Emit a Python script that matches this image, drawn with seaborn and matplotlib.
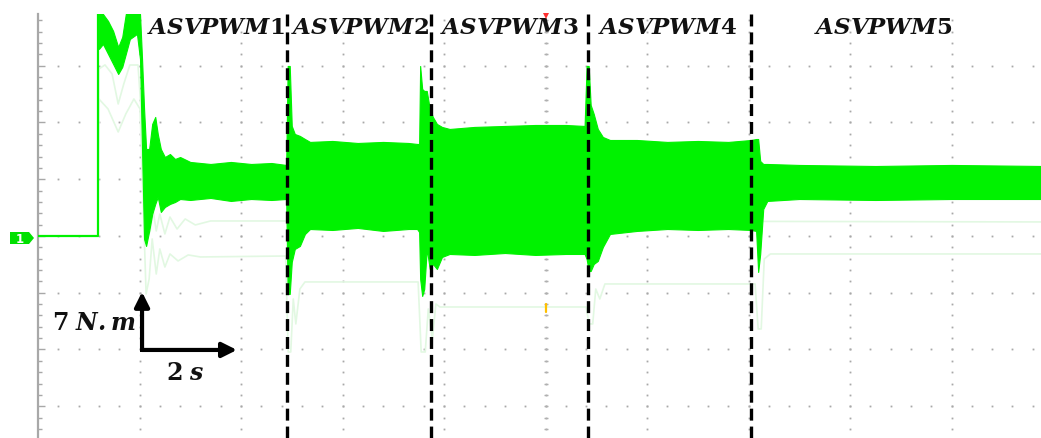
import numpy as np
import pandas as pd
import matplotlib
matplotlib.use("Agg")
import matplotlib.pyplot as plt
from matplotlib.ticker import MultipleLocator
from matplotlib.patches import Polygon
import seaborn as sns

# ---------------- data (time in s, torque in N.m) ----------------
# flat trace before start-up and the jump
pre_t = [0.0, 1.18, 1.18]
pre_T = [0.0, 0.0, 27.38]

# envelope of the bright torque trace (time, upper, lower)
band_t = [1.20, 1.28, 1.38, 1.48, 1.58, 1.66, 1.73, 1.81, 1.95, 2.01, 2.05, 2.09, 2.13,
          2.19, 2.25, 2.31, 2.36, 2.42, 2.50, 2.60, 2.70, 2.80, 3.00, 3.40, 3.80, 4.20,
          4.60, 4.89, 4.92, 4.96, 5.00, 5.06, 5.16, 5.26, 5.36, 5.80, 6.30, 6.80, 7.30,
          7.47, 7.51, 7.53, 7.57, 7.61, 7.66, 7.72, 7.78, 7.86, 7.96, 8.11, 8.60, 9.20,
          9.80, 10.40, 10.77, 10.81, 10.85, 10.89, 10.95, 11.03, 11.13, 11.27, 11.80,
          12.40, 13.00, 13.60, 14.05, 14.15, 14.19, 14.23, 14.29, 14.37, 15.00, 16.50,
          18.00, 19.80]
band_hi = [27.38, 27.38, 26.52, 25.29, 23.31, 24.55, 27.38, 27.38, 27.38, 27.38, 21.83,
           15.67, 10.73, 10.73, 13.82, 14.68, 12.58, 10.73, 9.74, 10.11, 9.50, 9.74, 9.13,
           8.88, 9.13, 8.88, 9.00, 8.76, 20.97, 20.97, 13.57, 12.58, 12.34, 11.96, 11.60,
           11.72, 11.47, 11.60, 11.47, 11.35, 11.35, 20.97, 18.13, 17.89, 17.89, 15.67,
           14.68, 13.82, 13.45, 13.20, 13.45, 13.57, 13.69, 13.69, 13.57, 20.97, 20.97,
           16.16, 15.05, 13.20, 12.21, 11.84, 11.84, 11.60, 11.72, 11.60, 11.84, 11.96,
           11.96, 9.25, 8.88, 8.88, 8.76, 8.63, 8.76, 8.63]
band_lo = [23.07, 23.68, 22.45, 21.22, 19.98, 20.85, 22.45, 24.30, 24.92, 21.83, 10.73,
           -0.37, -1.23, 0.62, 2.71, 3.95, 4.81, 2.96, 3.58, 3.95, 4.19, 4.56, 4.44, 4.69,
           4.32, 4.56, 4.44, 4.56, -7.15, -7.15, -3.21, -1.60, -1.23, 0.25, 0.86, 0.74,
           0.99, 0.62, 0.86, 0.86, 0.49, -5.30, -7.40, -6.54, -1.60, -4.07, -3.45, -4.07,
           -2.59, -2.22, -2.34, -2.10, -2.34, -2.22, -2.22, -2.84, -4.32, -4.32, -3.45,
           -3.08, -1.36, 0.25, 0.62, 0.86, 0.74, 0.86, 0.74, 0.62, -4.44, -2.22, 3.33,
           4.32, 4.56, 4.44, 4.56, 4.56]

# faint (persisted) traces
pale1_t = [1.18, 1.20, 1.32, 1.46, 1.58, 1.69, 1.81, 1.97, 2.03, 2.09, 2.15, 2.21, 2.27,
           2.33, 2.40, 2.50, 2.60, 2.74, 2.90, 3.10, 3.40, 10.0, 19.80]
pale1_T = [0.0, 20.60, 21.10, 19.98, 16.28, 18.75, 21.09, 21.09, 15.67, 4.56, -0.37, 0.62,
           3.08, 0.62, 2.71, 0.25, 2.34, 0.86, 2.10, 1.36, 1.85, 1.85, 1.73]
pale2_t = [1.18, 1.20, 1.38, 1.58, 1.73, 1.89, 2.01, 2.07, 2.13, 2.19, 2.25, 2.33, 2.40,
           2.50, 2.60, 2.76, 2.96, 3.20, 4.88, 4.93, 4.98, 5.03, 5.08, 5.16, 5.26, 7.49,
           7.55, 7.63, 7.69, 7.77, 7.84, 7.92, 10.80, 10.86, 10.93, 10.99, 11.07, 11.17,
           14.13, 14.19, 14.25, 14.31, 14.43, 19.80]
pale2_T = [0.0, 16.90, 15.67, 12.83, 15.05, 16.90, 15.67, 4.56, -7.15, -5.30, -0.37,
           -4.69, -1.60, -3.83, -2.22, -3.08, -2.34, -2.59, -2.47, -14.31, -14.31, -7.77,
           -10.85, -6.54, -5.67, -5.67, -14.31, -14.31, -9.00, -12.70, -8.39, -8.76, -8.76,
           -10.85, -10.85, -6.54, -7.77, -5.92, -5.92, -11.47, -11.47, -2.84, -2.22, -2.22]

# mode boundaries and labels
mode_edges = [4.906, 7.744, 10.837, 14.049]
mode_names = ["1", "2", "3", "4", "5"]
mode_label_t = [3.50, 6.34, 9.29, 12.41, 16.66]

# ---------------- style ----------------
sns.set_style("white")
plt.rcParams["mathtext.fontset"] = "dejavuserif"
plt.rcParams["lines.scale_dashes"] = False

GREEN = "#00f200"
PALE = "#e2f8e2"
GRAY = "#a8a8a8"

W, H = 1041, 439
fig = plt.figure(figsize=(W / 100, H / 100), dpi=100)
ax = fig.add_axes([38 / W, 0, 1003 / W, 424 / H])
XMAX, YMIN, YMAX = 19.763, -24.92, 27.38
ax.set_xlim(0, XMAX)
ax.set_ylim(YMIN, YMAX)

# scope graticule (dots)
hl = np.arange(-21, 22, 7)
vl = np.arange(2, 19, 2)
xd = np.arange(0.4, XMAX, 0.4)
yd = np.arange(-23.8, YMAX, 1.4)
HX, HY = np.meshgrid(xd, hl)
VX, VY = np.meshgrid(vl, yd)
ax.plot(HX.ravel(), HY.ravel(), ls="none", marker="s", ms=1.3, mew=0, color=GRAY, zorder=1)
ax.plot(VX.ravel(), VY.ravel(), ls="none", marker="s", ms=1.3, mew=0, color=GRAY, zorder=1)
ax.plot(np.full_like(yd, 10.0), yd, ls="none", marker="_", ms=3.5, mew=1.0, color="#b0b0b0", zorder=1)

# left axis with ticks
for s in ["top", "right", "bottom"]:
    ax.spines[s].set_visible(False)
ax.spines["left"].set_color(GRAY)
ax.spines["left"].set_linewidth(1.6)
ax.yaxis.set_major_locator(MultipleLocator(7))
ax.yaxis.set_minor_locator(MultipleLocator(1.4))
ax.tick_params(axis="y", which="major", left=True, direction="in", length=5, width=1,
               color=GRAY, labelleft=False)
ax.tick_params(axis="y", which="minor", left=True, direction="in", length=3, width=1, color=GRAY)
ax.set_xticks([])
ax.set_xlabel("")
ax.set_ylabel("")

# faint traces
sns.lineplot(x=pale1_t, y=pale1_T, ax=ax, color=PALE, lw=1.2, sort=False, estimator=None, zorder=2)
sns.lineplot(x=pale2_t, y=pale2_T, ax=ax, color=PALE, lw=1.2, sort=False, estimator=None, zorder=2)

# bright trace
sns.lineplot(x=pre_t, y=pre_T, ax=ax, color=GREEN, lw=1.6, sort=False, estimator=None, zorder=3)
ax.fill_between(band_t, band_lo, band_hi, color=GREEN, lw=0.8, edgecolor=GREEN, zorder=3)

# mode boundaries
for t in mode_edges:
    ax.plot([t, t], [YMAX, YMIN], color="black", lw=2.4, dashes=(8.6, 4.3), zorder=5)

# mode labels
for t, n in zip(mode_label_t, mode_names):
    ax.text(t, 25.0, r"$\mathbfit{ASVPWM}\mathbf{" + n + "}$", ha="center", va="baseline",
            fontsize=16.5, color="#111111", zorder=6)

# scale arrows
ax.annotate("", xy=(2.05, -6.9), xytext=(2.05, -14.06),
            arrowprops=dict(arrowstyle="-|>", color="black", lw=3, mutation_scale=22,
                            shrinkA=0, shrinkB=0), zorder=6)
ax.annotate("", xy=(3.92, -14.06), xytext=(2.05, -14.06),
            arrowprops=dict(arrowstyle="-|>", color="black", lw=3, mutation_scale=22,
                            shrinkA=0, shrinkB=0), zorder=6)
ax.plot([2.05], [-14.06], marker="s", ms=3, color="black", mew=0, zorder=6)
ax.text(1.11, -11.47, r"$\mathbf{7}\ \mathbfit{N.m}$", ha="center", va="baseline",
        fontsize=17, color="#111111", zorder=6)
ax.text(2.90, -17.64, r"$\mathbf{2}\ \mathbfit{s}$", ha="center", va="baseline",
        fontsize=17, color="#111111", zorder=6)

# trigger markers
ax.plot([10.0], [27.1], marker="v", ms=5, color="#ff3030", mew=0, clip_on=False, zorder=6)
ax.plot([10.0, 10.0], [-8.4, -9.4], color="#ffc000", lw=1.6, zorder=6)

# channel 1 ground tag (pentagon tag left of the screen)
tag_px = [(10, 233), (29, 233), (34, 239), (29, 245), (10, 245)]
fig.patches.append(Polygon([(x / W, 1 - y / H) for x, y in tag_px], closed=True,
                           transform=fig.transFigure, fc="#00e000", ec="none"))
fig.text(20 / W, 1 - 239.5 / H, "1", ha="center", va="center", fontsize=8.5,
         fontweight="bold", color="white")

fig.savefig("out.png", dpi=100)
